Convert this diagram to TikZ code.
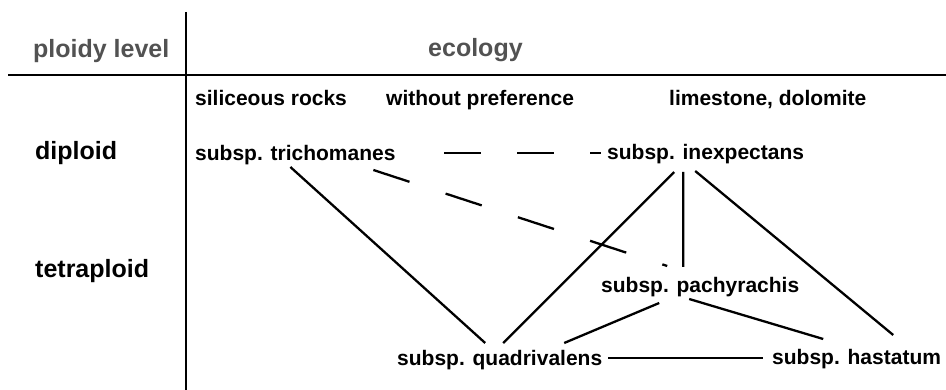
\documentclass[tikz,border=0pt]{standalone}
\usepackage{fontspec}
\setmainfont{Liberation Sans}
\tikzset{
  taxon/.style={anchor=base west, inner sep=0pt, font=\bfseries\fontsize{21}{25}\selectfont},
  head/.style={anchor=base west, inner sep=0pt, font=\bfseries\fontsize{25}{30}\selectfont},
  link/.style={line width=2.3pt},
}
\begin{document}
\begin{tikzpicture}[x=1pt, y=-1pt]
  % picture frame, y runs downwards like the image
  \useasboundingbox (0,0) rectangle (946,390);

  % table rules
  \draw[line width=2pt] (185.5,12) -- (185.5,390);
  \draw[line width=2pt] (8,75) -- (946,75);

  % column and row headings
  \node[head, text=black!68] (ploidy) at (33,58) {ploidy level};
  \node[head, text=black!68] (ecology) at (428,57) {ecology};
  \node[taxon] (sil) at (195,106) {siliceous rocks};
  \node[taxon] (nopref) at (386,106) {without preference};
  \node[taxon] (lime) at (669,106) {limestone, dolomite};
  \node[head] (dip) at (35,160) {diploid};
  \node[head] (tetra) at (35,278) {tetraploid};

  % taxa
  \node[taxon] (trich) at (195,161) {subsp. trichomanes};
  \node[taxon] (inexp) at (607,160) {subsp. inexpectans};
  \node[taxon] (pachy) at (601,293) {subsp. pachyrachis};
  \node[taxon] (quadri) at (397,366) {subsp. quadrivalens};
  \node[taxon] (hast) at (772,365) {subsp. hastatum};

  % dashed links
  \draw[link, dash pattern=on 37pt off 36pt, dash phase=37pt]
    ([shift={(113,-8)}]trich.base) -- ([shift={(-104.4,-7)}]inexp.base);
  \draw[link, dash pattern=on 38pt off 38pt]
    ([shift={(78,9)}]trich.base) -- ([shift={(-33,-27)}]pachy.base);

  % solid links
  \draw[link] ([shift={(-5,6)}]trich.base) -- ([shift={(-14.5,-23)}]quadri.base);
  \draw[link] ([shift={(-31.4,12)}]inexp.base) -- ([shift={(3.5,-23)}]quadri.base);
  \draw[link] ([shift={(-22.4,12)}]inexp.base) -- ([shift={(-17,-26)}]pachy.base);
  \draw[link] ([shift={(-10.4,11)}]inexp.base) -- ([shift={(36.6,-30)}]hast.base);
  \draw[link] ([shift={(-41,10)}]pachy.base) -- ([shift={(64.5,-23)}]quadri.base);
  \draw[link] ([shift={(-11,6)}]pachy.base) -- ([shift={(-33.4,-26)}]hast.base);
  \draw[link] ([shift={(108.5,-8)}]quadri.base) -- ([shift={(-93.4,-7)}]hast.base);
\end{tikzpicture}
\end{document}
